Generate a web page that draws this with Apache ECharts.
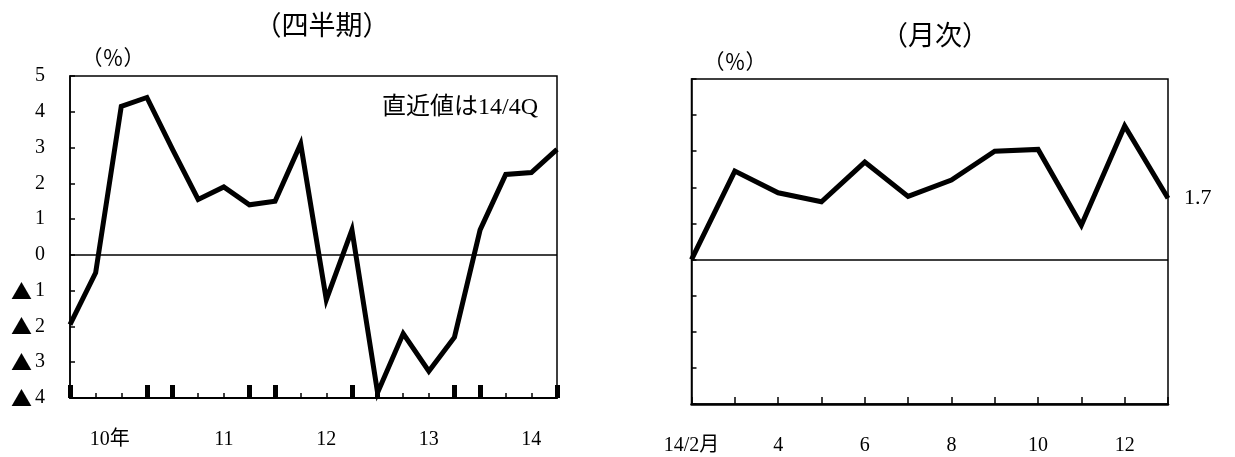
<!DOCTYPE html>
<html>
<head>
<meta charset="utf-8">
<script src="https://cdn.jsdelivr.net/npm/echarts@6/dist/echarts.min.js"></script>
<style>
html,body{margin:0;padding:0;background:#fff;}
#main{width:1235px;height:457px;}
</style>
</head>
<body>
<div id="main"></div>
<script>
// ---- data ----
const quarterCategories = ['10Q1','10Q2','10Q3','10Q4','11Q1','11Q2','11Q3','11Q4','12Q1','12Q2','12Q3','12Q4','13Q1','13Q2','13Q3','13Q4','14Q1','14Q2','14Q3','14Q4'];
const quarterValues = [-1.95, -0.5, 4.15, 4.4, 2.95, 1.55, 1.9, 1.4, 1.5, 3.1, -1.25, 0.7, -3.85, -2.2, -3.25, -2.3, 0.7, 2.25, 2.3, 2.95];
const quarterYearLabels = {2:'10年', 6:'11', 10:'12', 14:'13', 18:'14'};
const quarterMajorTicks = [0,3,4,7,8,11,12,15,16,19];

const monthCategories = ['14/2月','3','4','5','6','7','8','9','10','11','12','1'];
const monthValues = [0.0, 2.45, 1.85, 1.6, 2.7, 1.75, 2.2, 3.0, 3.05, 0.95, 3.7, 1.7];

const yMin = -4, yMax = 5, yStep = 1;

const titleQuarter = '（四半期）';
const titleMonth = '（月次）';
const unitText = '（％）';
const noteText = '直近値は14/4Q';

// ---- chart ----
const FONT = "'Liberation Serif', 'Noto Sans CJK JP', serif";
const CJK = "'Noto Sans CJK JP', sans-serif";
const chart = echarts.init(document.getElementById('main'), null, {renderer:'canvas'});

function yLabel(v){ return v < 0 ? '{t|▲}{d|' + Math.abs(v) + '}' : '{d|' + v + '}'; }

const option = {
  animation: false,
  backgroundColor: '#fff',
  textStyle: {fontFamily: FONT, color: '#000'},
  grid: [
    {left: 70, top: 76, width: 487, height: 322, show: true, borderColor: '#000', borderWidth: 1.5, backgroundColor: 'transparent', containLabel: false},
    {left: 691.5, top: 79, width: 476.5, height: 325, show: true, borderColor: '#000', borderWidth: 1.5, backgroundColor: 'transparent', containLabel: false}
  ],
  xAxis: [
    {
      gridIndex: 0, type: 'category', data: quarterCategories, boundaryGap: false, position: 'bottom',
      axisLine: {show: true, onZero: false, lineStyle: {color: '#000', width: 2}},
      axisTick: {show: true, inside: true, length: 5, interval: 0, lineStyle: {color: '#000', width: 1.5}},
      axisLabel: {
        show: true, margin: 32, fontSize: 20, fontFamily: FONT, color: '#000',
        interval: function(i){ return quarterYearLabels[i] !== undefined; },
        formatter: function(v, i){ return i === 2 ? '{a|' + quarterYearLabels[i] + '}' : quarterYearLabels[i]; },
        rich: {a: {fontSize: 20, fontFamily: FONT, color: '#000', padding: [0, 23, 0, 0]}}
      },
      splitLine: {show: false}
    },
    {
      gridIndex: 0, type: 'category', data: quarterCategories, boundaryGap: false, position: 'bottom',
      axisLine: {show: false, onZero: false},
      axisTick: {show: true, inside: true, length: 13,
        interval: function(i){ return quarterMajorTicks.indexOf(i) >= 0; },
        lineStyle: {color: '#000', width: 5}},
      axisLabel: {show: false},
      splitLine: {show: false}
    },
    {
      gridIndex: 1, type: 'category', data: monthCategories, boundaryGap: false, position: 'bottom',
      axisLine: {show: true, onZero: false, lineStyle: {color: '#000', width: 2.5}},
      axisTick: {show: true, inside: true, length: 7, interval: 0, lineStyle: {color: '#000', width: 1.5}},
      axisLabel: {show: true, margin: 32, fontSize: 20, fontFamily: FONT, color: '#000', interval: 1},
      splitLine: {show: false}
    }
  ],
  yAxis: [
    {
      gridIndex: 0, type: 'value', min: yMin, max: yMax, interval: yStep,
      axisLine: {show: true, lineStyle: {color: '#000', width: 1.5}},
      axisTick: {show: true, inside: true, length: 5, lineStyle: {color: '#000', width: 1.5}},
      axisLabel: {
        show: true, margin: 25, color: '#000', formatter: yLabel,
        rich: {
          t: {fontSize: 21, fontFamily: CJK, color: '#000', padding: [0, 3, 0, 0]},
          d: {fontSize: 20, fontFamily: FONT, color: '#000'}
        }
      },
      splitLine: {show: false}
    },
    {
      gridIndex: 1, type: 'value', min: yMin, max: yMax, interval: yStep,
      axisLine: {show: true, lineStyle: {color: '#000', width: 1.5}},
      axisTick: {show: true, inside: true, length: 5, lineStyle: {color: '#000', width: 1.5}},
      axisLabel: {show: false},
      splitLine: {show: false}
    }
  ],
  series: [
    {
      type: 'line', xAxisIndex: 0, yAxisIndex: 0, data: quarterValues,
      symbol: 'none', clip: false,
      lineStyle: {color: '#000', width: 5, join: 'miter', cap: 'butt'},
      markLine: {
        silent: true, symbol: 'none', label: {show: false},
        lineStyle: {color: '#000', width: 1.5, type: 'solid'},
        data: [{yAxis: 0}]
      },
      z: 3
    },
    {
      type: 'line', xAxisIndex: 2, yAxisIndex: 1, data: monthValues,
      symbol: 'none', clip: false,
      lineStyle: {color: '#000', width: 5, join: 'miter', cap: 'butt'},
      endLabel: {
        show: true, distance: 16, fontSize: 22, fontFamily: FONT, color: '#000',
        formatter: function(p){ return Number(p.value).toFixed(1); }
      },
      markLine: {
        silent: true, symbol: 'none', label: {show: false},
        lineStyle: {color: '#000', width: 1.5, type: 'solid'},
        data: [{yAxis: 0}]
      },
      z: 3
    }
  ],
  graphic: [
    {type: 'text', x: 322, y: 25, style: {text: titleQuarter, font: '27px ' + CJK, fill: '#000', align: 'center', verticalAlign: 'middle'}},
    {type: 'text', x: 113, y: 57, style: {text: unitText, font: '21px ' + CJK, fill: '#000', align: 'center', verticalAlign: 'middle'}},
    {type: 'text', x: 935, y: 35, style: {text: titleMonth, font: '27px ' + CJK, fill: '#000', align: 'center', verticalAlign: 'middle'}},
    {type: 'text', x: 735, y: 61, style: {text: unitText, font: '21px ' + CJK, fill: '#000', align: 'center', verticalAlign: 'middle'}},
    {type: 'text', x: 382, y: 108, style: {text: noteText, font: '24px ' + FONT, fill: '#000', align: 'left', verticalAlign: 'middle'}}
  ]
};
chart.setOption(option);
</script>
</body>
</html>
